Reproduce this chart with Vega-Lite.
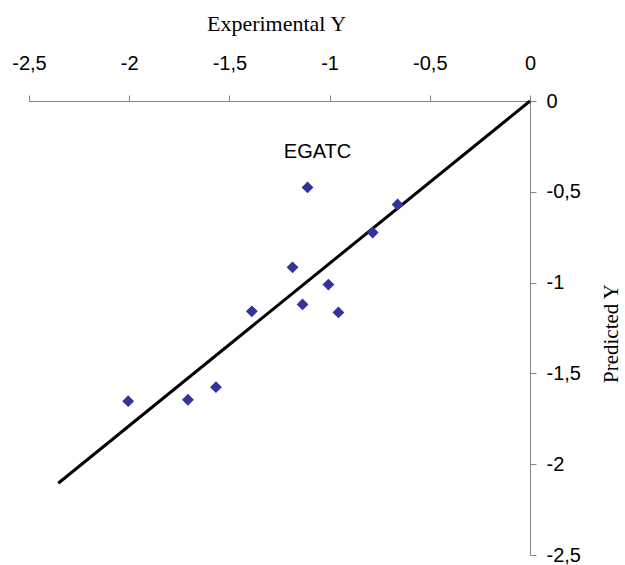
{
  "$schema": "https://vega.github.io/schema/vega-lite/v6.json",
  "width": 501,
  "height": 454,
  "autosize": {"type": "none"},
  "padding": {"left": 29, "top": 101, "right": 95, "bottom": 10},
  "background": "white",
  "config": {
    "view": {"stroke": null},
    "axis": {
      "grid": false,
      "domainColor": "#868686",
      "tickColor": "#868686",
      "domainWidth": 1,
      "tickWidth": 1,
      "tickSize": 6,
      "labelFont": "Liberation Sans",
      "labelFontSize": 20,
      "labelColor": "black",
      "labelFlush": false,
      "labelOverlap": false,
      "labelBound": false,
      "titleFont": "Liberation Serif",
      "titleFontWeight": "normal",
      "titleFontSize": 22,
      "titleColor": "black"
    }
  },
  "datasets": {
    "points": [
      {"experimental": -2.005, "predicted": -1.653},
      {"experimental": -1.707, "predicted": -1.645},
      {"experimental": -1.567, "predicted": -1.576},
      {"experimental": -1.388, "predicted": -1.158},
      {"experimental": -1.185, "predicted": -0.916},
      {"experimental": -1.135, "predicted": -1.12},
      {"experimental": -1.11, "predicted": -0.476},
      {"experimental": -1.006, "predicted": -1.011},
      {"experimental": -0.956, "predicted": -1.164},
      {"experimental": -0.785, "predicted": -0.724},
      {"experimental": -0.661, "predicted": -0.57}
    ],
    "fit": [
      {"experimental": 0, "predicted": 0},
      {"experimental": -2.354, "predicted": -2.105}
    ],
    "labels": [
      {"experimental": -1.06, "predicted": -0.281, "label": "EGATC"}
    ]
  },
  "encoding": {
    "x": {
      "field": "experimental",
      "type": "quantitative",
      "scale": {"domain": [-2.5, 0], "nice": false, "zero": false},
      "axis": {
        "orient": "top",
        "values": [-2.5, -2, -1.5, -1, -0.5, 0],
        "labelExpr": "replace(toString(datum.value), '.', ',')",
        "labelBaseline": "alphabetic",
        "labelPadding": 26,
        "title": "Experimental Y",
        "titleX": 247,
        "titleY": -71,
        "titleBaseline": "alphabetic",
        "titleAlign": "center"
      }
    },
    "y": {
      "field": "predicted",
      "type": "quantitative",
      "scale": {"domain": [-2.5, 0], "nice": false, "zero": false},
      "axis": {
        "orient": "right",
        "values": [-2.5, -2, -1.5, -1, -0.5, 0],
        "labelExpr": "replace(toString(datum.value), '.', ',')",
        "labelAlign": "left",
        "labelBaseline": "middle",
        "labelPadding": 10,
        "title": "Predicted Y",
        "titleAngle": 270,
        "titleX": 81,
        "titleY": 232,
        "titleAlign": "center",
        "titleBaseline": "middle",
        "titleFontSize": 21
      }
    }
  },
  "layer": [
    {
      "data": {"name": "fit"},
      "mark": {"type": "line", "color": "black", "strokeWidth": 3}
    },
    {
      "data": {"name": "points"},
      "mark": {"type": "point", "shape": "diamond", "filled": true, "color": "#333399", "opacity": 1, "size": 140}
    },
    {
      "data": {"name": "labels"},
      "mark": {"type": "text", "font": "Liberation Sans", "fontSize": 20, "color": "black", "align": "center", "baseline": "middle"},
      "encoding": {"text": {"field": "label"}}
    }
  ]
}
